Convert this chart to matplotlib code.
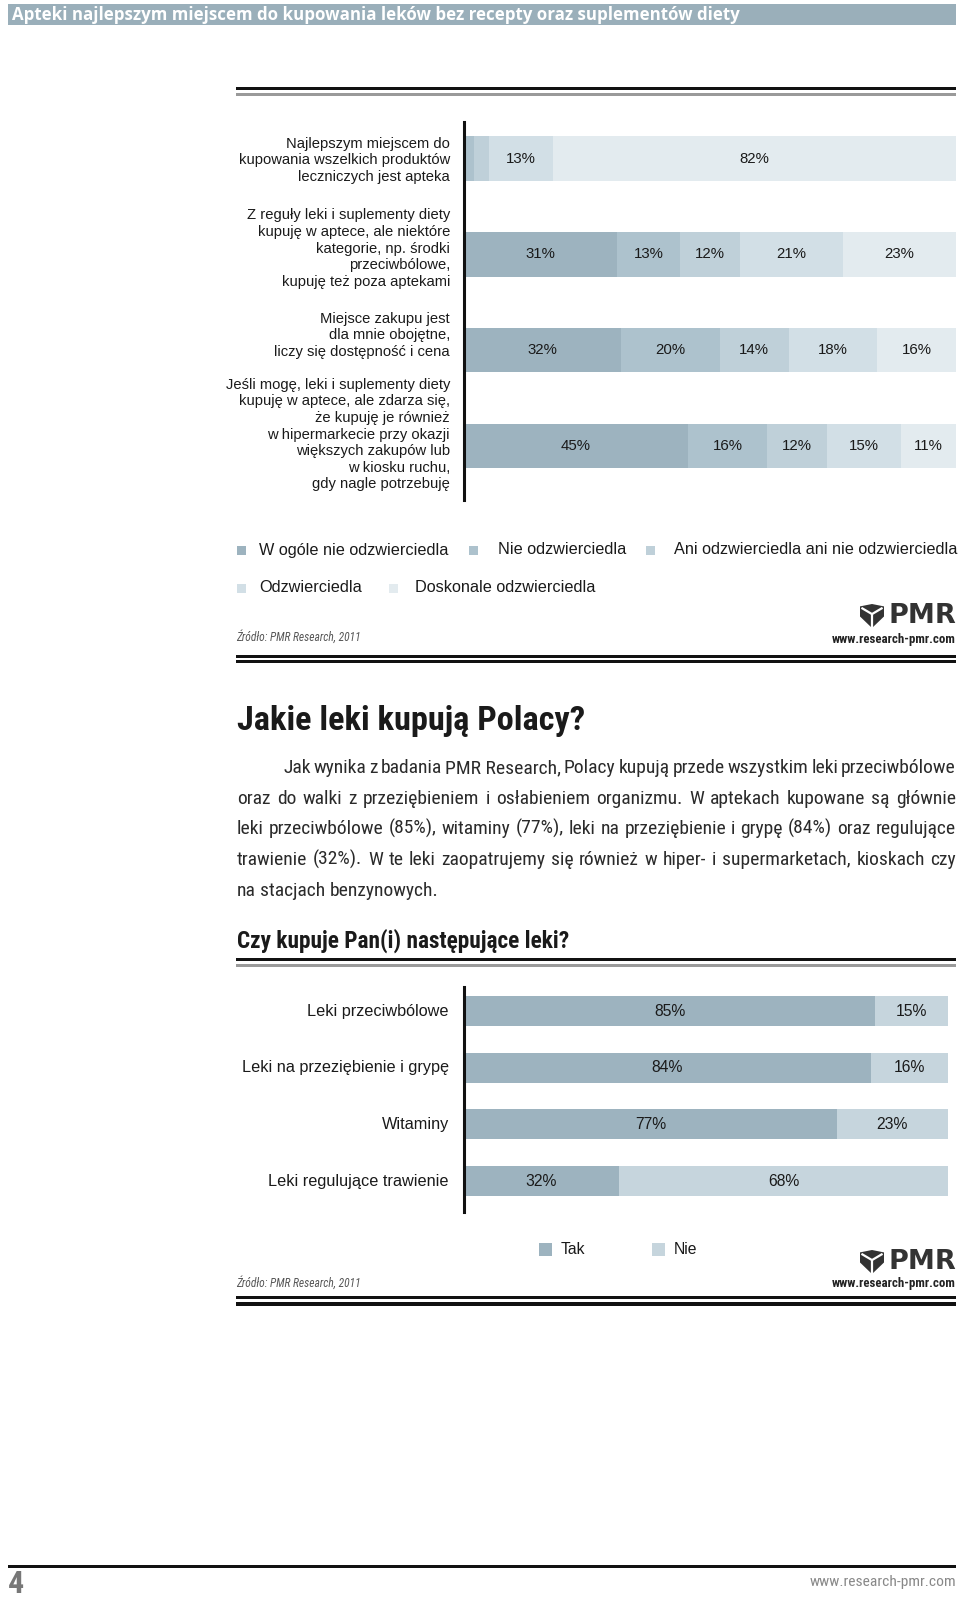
import os
import matplotlib
matplotlib.use('Agg')
import matplotlib.pyplot as plt
import matplotlib.transforms as mtransforms
from matplotlib.patches import Rectangle, Polygon
from matplotlib.font_manager import FontProperties
import numpy as np
import warnings
warnings.filterwarnings('ignore')

# ---------------- data ----------------
header_title = "Apteki najlepszym miejscem do kupowania leków bez recepty oraz suplementów diety"

cats1 = [
    "Najlepszym miejscem do\nkupowania wszelkich produktów\nleczniczych jest apteka",
    "Z reguły leki i suplementy diety\nkupuję w aptece, ale niektóre\nkategorie, np. środki\nprzeciwbólowe,\nkupuję też poza aptekami",
    "Miejsce zakupu jest\ndla mnie obojętne,\nliczy się dostępność i cena",
    "Jeśli mogę, leki i suplementy diety\nkupuję w aptece, ale zdarza się,\nże kupuję je również\nw hipermarkecie przy okazji\nwiększych zakupów lub\nw kiosku ruchu,\ngdy nagle potrzebuję",
]
levels1 = ["W ogóle nie odzwierciedla", "Nie odzwierciedla",
           "Ani odzwierciedla ani nie odzwierciedla", "Odzwierciedla",
           "Doskonale odzwierciedla"]
w_ogole_nie = [0, 31, 32, 45]
nie_odzw = [2, 13, 20, 16]
ani_ani = [3, 12, 14, 12]
odzw = [13, 21, 18, 15]
doskonale = [82, 23, 16, 11]

heading = "Jakie leki kupują Polacy?"
paragraph_lines = [
    "Jak wynika z badania PMR\u00a0Research, Polacy kupują przede wszystkim leki przeciwbólowe",
    "oraz do walki z przeziębieniem i osłabieniem organizmu. W aptekach kupowane są głównie",
    "leki przeciwbólowe (85%), witaminy (77%), leki na przeziębienie i grypę (84%) oraz regulujące",
    "trawienie (32%). W te leki zaopatrujemy się również w hiper- i supermarketach, kioskach czy",
    "na stacjach benzynowych.",
]
subheading = "Czy kupuje Pan(i) następujące leki?"

cats2 = ["Leki przeciwbólowe", "Leki na przeziębienie i grypę", "Witaminy",
         "Leki regulujące trawienie"]
levels2 = ["Tak", "Nie"]
tak = [85, 84, 77, 32]
nie = [15, 16, 23, 68]

source = "Źródło: PMR Research, 2011"
logo_url = "www.research-pmr.com"
page_number = "4"

# ---------------- style ----------------
W, H = 960, 1599
colors1 = ['#9db3bf', '#adc2cd', '#bfd0d9', '#d2dfe6', '#e3ebef']
colors2 = ['#9db3bf', '#c6d5dd']
header_col = '#9aafba'
txt = '#1a1a1a'
SANS = ['Liberation Sans', 'DejaVu Sans']

RC_DIR = '/usr/share/fonts/truetype/roboto/unhinted/'


def nfont(variant='Regular'):
    path = os.path.join(RC_DIR, 'RobotoCondensed-%s.ttf' % variant)
    if os.path.exists(path):
        return FontProperties(fname=path)
    fp = FontProperties(family=['Roboto Condensed', 'DejaVu Sans'])
    if 'Bold' in variant:
        fp.set_weight('bold')
    if 'Italic' in variant:
        fp.set_style('italic')
    return fp


NREG = nfont('Regular')
NBOLD = nfont('Bold')
NITAL = nfont('Italic')

fig = plt.figure(figsize=(W / 100, H / 100), dpi=100)
ov = fig.add_axes([0, 0, 1, 1], zorder=0)
ov.set_xlim(0, W)
ov.set_ylim(H, 0)
ov.axis('off')
R = fig.canvas.get_renderer()


def fp_sized(fp, size):
    f = fp.copy()
    f.set_size(size)
    return f


def text_w(s, fp=None, **kw):
    if fp is not None:
        t = ov.text(0, 100, s, fontproperties=fp, **kw)
    else:
        t = ov.text(0, 100, s, **kw)
    w = t.get_window_extent(R).width
    t.remove()
    return w


def fit(s, target, fp=None, **kw):
    if fp is not None:
        return 10.0 * target / text_w(s, fp=fp_sized(fp, 10))
    return 10.0 * target / text_w(s, fontsize=10, **kw)


def box_axes(x0, y0, x1, y1):
    return fig.add_axes([x0 / W, 1 - y1 / H, (x1 - x0) / W, (y1 - y0) / H], zorder=2)


def rule(y0, y1, x0=236, x1=956, color='#111111'):
    ov.add_patch(Rectangle((x0, y0), x1 - x0, y1 - y0, color=color, lw=0))


def logo(x_right, yc_pmr, yc_url):
    ov.text(x_right, yc_pmr, "PMR", family=['DejaVu Sans'], weight='bold',
            fontsize=19.5, color='#333333', ha='right', va='center')
    fs = fit(logo_url, 124, fp=NBOLD)
    ov.text(x_right, yc_url, logo_url, fontproperties=fp_sized(NBOLD, fs),
            color='#222222', ha='right', va='center')
    # shield icon
    x0, y0, w, h = x_right - 96, yc_pmr - 12, 24, 24
    pts = [(0.0, 0.10), (0.5, 0.0), (1.0, 0.10), (1.0, 0.52), (0.5, 1.0), (0.0, 0.52)]
    ov.add_patch(Polygon([(x0 + a * w, y0 + b * h) for a, b in pts], closed=True,
                         color='#333333', lw=0))
    cx, cy = x0 + 0.5 * w, y0 + 0.42 * h
    for (a, b) in [(0.06, 0.16), (0.94, 0.16), (0.5, 0.98)]:
        ov.plot([cx, x0 + a * w], [cy, y0 + b * h], color='white', lw=1.6,
                solid_capstyle='butt')


# ---------------- header ----------------
ov.add_patch(Rectangle((8, 4), 948, 21, color=header_col, lw=0))
fs = fit(header_title, 727, family=['Open Sans', 'DejaVu Sans'], weight='bold')
ov.text(12, 20, header_title, family=['Open Sans', 'DejaVu Sans'], weight='bold',
        fontsize=fs, color='white', ha='left', va='baseline')

# ---------------- chart 1 ----------------
rule(86.5, 89.5)
rule(93, 95.5, color='#9a9a9a')

ax1 = box_axes(464, 122, 956, 500)
series1 = np.array([w_ogole_nie, nie_odzw, ani_ani, odzw, doskonale], dtype=float)
totals = series1.sum(axis=0)
share = series1 / totals * 100
y1 = np.arange(len(cats1))
left = np.zeros(len(cats1))
for k in range(series1.shape[0]):
    cont = ax1.barh(y1, share[k], left=left, height=0.464, color=colors1[k], lw=0)
    labs = [f"{int(v)}%" if v >= 10 else "" for v in series1[k]]
    ax1.bar_label(cont, labels=labs, label_type='center', fontsize=10.8,
                  family=SANS, color=txt)
    left += share[k]
ax1.set_xlim(0, 100)
ax1.set_ylim(3.563, -0.381)
for s in ['top', 'right', 'bottom']:
    ax1.spines[s].set_visible(False)
ax1.spines['left'].set_linewidth(2.2)
ax1.spines['left'].set_color('#111111')
ax1.spines['left'].set_zorder(5)
ax1.set_xticks([])
ax1.set_yticks([])
ax1.patch.set_alpha(0)
tr1 = mtransforms.blended_transform_factory(ax1.transAxes, ax1.transData)
label_shift1 = [0.02, -0.06, -0.155, -0.12]   # vertical nudge of the label blocks
for i, c in enumerate(cats1):
    ax1.text(-0.0285, y1[i] + label_shift1[i], c, transform=tr1, ha='right',
             va='center', multialignment='right', fontsize=10.6, family=SANS,
             color=txt, linespacing=1.24, clip_on=False)

# legend 1
leg_sq1 = [(241, 550), (473, 550), (650, 550), (241, 588), (393, 588)]
leg_tx1 = [259, 498, 674, 259, 415]
for k, (lx, ly) in enumerate(leg_sq1):
    ov.add_patch(Rectangle((lx - 4.5, ly - 4.5), 9, 9, color=colors1[k], lw=0))
    ov.text(leg_tx1[k], ly, levels1[k], fontsize=11.7, family=SANS, color=txt,
            ha='left', va='center')

fs_src = fit(source, 125, fp=NITAL)
ov.text(236, 637, source, fontproperties=fp_sized(NITAL, fs_src),
        color='#555555', ha='left', va='center')
logo(956, 616, 639)
rule(654.5, 657.5)
rule(659.5, 662.5)

# ---------------- text section ----------------
fs_h = fit(heading, 348, fp=NBOLD)
ov.text(237, 730, heading, fontproperties=fp_sized(NBOLD, fs_h),
        color='#1a1a1a', ha='left', va='baseline')

fs_p = fit(paragraph_lines[-1], 200, fp=NREG)
PF = fp_sized(NREG, fs_p)
space_w = text_w('a a', fp=PF) - text_w('aa', fp=PF)
base_y = [773, 804, 834, 865, 896]
for i, line in enumerate(paragraph_lines):
    words = line.split(' ')
    ws = [text_w(w_, fp=PF) for w_ in words]
    x0 = 283 if i == 0 else 237
    if i < len(paragraph_lines) - 1:
        gap = (956 - x0 - sum(ws)) / (len(words) - 1)
    else:
        gap = space_w
    x = x0
    for w_, wd in zip(words, ws):
        ov.text(x, base_y[i], w_, fontproperties=PF, color='#2a2a2a',
                ha='left', va='baseline')
        x += wd + gap

fs_s = fit(subheading, 332, fp=NBOLD)
ov.text(237, 948, subheading, fontproperties=fp_sized(NBOLD, fs_s),
        color='#1a1a1a', ha='left', va='baseline')
rule(957.5, 960.5)
rule(964, 966.5, color='#9a9a9a')

# ---------------- chart 2 ----------------
ax2 = box_axes(464, 987, 948, 1212)
y2 = np.arange(len(cats2))
series2 = [tak, nie]
left = np.zeros(len(cats2))
for k, vals in enumerate(series2):
    vals = np.array(vals, dtype=float)
    cont = ax2.barh(y2, vals, left=left, height=0.53, color=colors2[k], lw=0)
    ax2.bar_label(cont, labels=[f"{int(v)}%" for v in vals], label_type='center',
                  fontsize=11.3, family=SANS, color=txt)
    left += vals
ax2.set_xlim(0, 100)
ax2.set_ylim(3.547, -0.424)
for s in ['top', 'right', 'bottom']:
    ax2.spines[s].set_visible(False)
ax2.spines['left'].set_linewidth(2.2)
ax2.spines['left'].set_color('#111111')
ax2.spines['left'].set_zorder(5)
ax2.set_xticks([])
ax2.set_yticks([])
ax2.patch.set_alpha(0)
tr2 = mtransforms.blended_transform_factory(ax2.transAxes, ax2.transData)
for i, c in enumerate(cats2):
    ax2.text(-0.031, y2[i], c, transform=tr2, ha='right', va='center',
             fontsize=11.7, family=SANS, color=txt, clip_on=False)

leg_sq2 = [(545, 1249), (658, 1249)]
leg_tx2 = [561, 674]
for k, (lx, ly) in enumerate(leg_sq2):
    ov.add_patch(Rectangle((lx - 6.5, ly - 6.5), 13, 13, color=colors2[k], lw=0))
    ov.text(leg_tx2[k], ly, levels2[k], fontsize=11.3, family=SANS, color=txt,
            ha='left', va='center')

ov.text(236, 1283, source, fontproperties=fp_sized(NITAL, fs_src),
        color='#555555', ha='left', va='center')
logo(956, 1262, 1284)
rule(1295.5, 1298.5)
rule(1302, 1305.5)

# ---------------- footer ----------------
rule(1564.5, 1567.5, x0=8, x1=956)
ov.text(8, 1599, page_number, fontproperties=fp_sized(NBOLD, 23),
        color='#777777', ha='left', va='bottom')
fs_f = fit(logo_url, 145, fp=NREG)
ov.text(956, 1582, logo_url, fontproperties=fp_sized(NREG, fs_f), color='#888888',
        ha='right', va='center')

fig.savefig('out.png', dpi=100)
